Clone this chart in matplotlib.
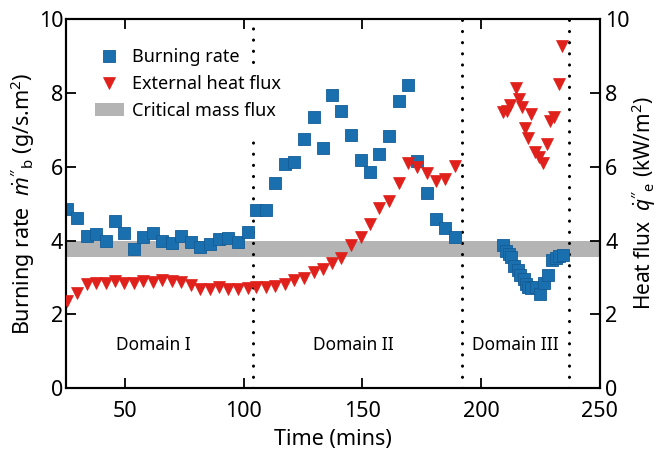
import matplotlib as mpl
mpl.use('Agg')
import matplotlib.pyplot as plt
from matplotlib.lines import Line2D
from matplotlib.patches import Patch

plt.rcParams['font.family'] = ['Noto Sans', 'DejaVu Sans']
plt.rcParams['mathtext.fontset'] = 'custom'
plt.rcParams['mathtext.rm'] = 'Noto Sans'
plt.rcParams['mathtext.it'] = 'Noto Sans:italic'

# times (mins) shared by both series in domains I and II
time = [25.5, 29.7, 33.7, 37.6, 41.8, 45.7, 49.7, 53.5, 57.7, 61.6, 65.5,
        69.7, 73.6, 77.7, 81.7, 85.6, 89.6, 93.5, 97.7, 101.6, 105.0,
        109.4, 113.3, 117.2, 121.3, 125.2, 129.4, 133.3, 137.2, 141.1,
        145.3, 149.2, 153.2, 157.1, 161.3, 165.2, 169.1, 173.1, 177.0,
        181.1, 185.0, 189.0]
burning = [4.85, 4.6, 4.12, 4.18, 3.98, 4.52, 4.2, 3.76, 4.1, 4.2, 4.0,
           3.94, 4.12, 3.96, 3.83, 3.91, 4.03, 4.06, 3.96, 4.22, 4.82,
           4.82, 5.55, 6.08, 6.13, 6.76, 7.36, 6.5, 7.95, 7.5,
           6.85, 6.18, 5.86, 6.35, 6.83, 7.78, 8.21, 6.16, 5.3,
           4.59, 4.35, 4.09]
heat = [2.36, 2.59, 2.81, 2.86, 2.86, 2.91, 2.86, 2.86, 2.9, 2.88, 2.92,
        2.91, 2.88, 2.79, 2.7, 2.7, 2.74, 2.7, 2.68, 2.71, 2.73,
        2.74, 2.78, 2.83, 2.94, 2.98, 3.14, 3.22, 3.39, 3.54,
        3.87, 4.09, 4.46, 4.87, 5.07, 5.57, 6.11, 5.98, 5.84,
        5.61, 5.66, 6.02]

# domain III
time3_b = [209.1, 210.5, 211.9, 212.8, 214.0, 215.4, 216.5, 217.9, 218.8,
           219.8, 220.9, 223.0, 224.8, 226.5, 228.2, 230.0, 231.4, 232.8,
           234.6]
burning3 = [3.87, 3.73, 3.64, 3.55, 3.3, 3.21, 3.07, 2.95, 2.82,
            2.75, 2.71, 2.75, 2.55, 2.85, 3.07, 3.48, 3.53, 3.57, 3.6]
time3_h = [209.1, 210.9, 212.1, 214.6, 216.0, 217.4, 218.4, 219.8, 220.9,
           222.6, 224.4, 226.3, 227.6, 229.0, 230.7, 232.8, 234.2]
heat3 = [7.48, 7.51, 7.68, 8.13, 7.83, 7.63, 7.04, 6.77, 7.43,
         6.39, 6.27, 6.09, 6.61, 7.25, 7.36, 8.23, 9.28]

critical = (3.55, 4.0)
domain_edges = [104, 192, 237]
domain_labels = ['Domain I', 'Domain II', 'Domain III']
domain_label_x = [62, 146, 214.4]

blue = '#1a6faf'
red = '#e0201b'
grey = '#b4b4b4'

fig = plt.figure(figsize=(6.59, 4.66), dpi=100)
ax = fig.add_axes([0.100, 0.167, 0.810, 0.792])
ax2 = ax.twinx()

ax.axhspan(critical[0], critical[1], color=grey, lw=0, zorder=1)

dot = dict(color='black', lw=2.2, linestyle=(0, (0.05, 3.6)),
           dash_capstyle='round', zorder=2)
ax.axvline(domain_edges[0], ymin=0, ymax=0.667, **dot)
ax.axvline(domain_edges[0], ymin=0.885, ymax=1, **dot)
ax.axvline(domain_edges[1], **dot)
ax.axvline(domain_edges[2], **dot)

sq = dict(marker='s', ms=8, mfc=blue, mec='#135d97', mew=0.6, ls='none', zorder=3)
tri = dict(marker='v', ms=9, mfc=red, mec=red, mew=0.5, ls='none', zorder=3)
ax.plot(time, burning, **sq)
ax.plot(time3_b, burning3, **sq)
ax2.plot(time, heat, **tri)
ax2.plot(time3_h, heat3, **tri)

for xl, lab in zip(domain_label_x, domain_labels):
    ax.text(xl, 1.17, lab, ha='center', va='center', fontsize=12.5)

ax.set_xlim(25, 250)
ax.set_ylim(0, 10)
ax2.set_ylim(0, 10)
ax.set_xticks([50, 100, 150, 200, 250])
ax.set_yticks([0, 2, 4, 6, 8, 10])
ax2.set_yticks([0, 2, 4, 6, 8, 10])

ax.tick_params(axis='both', direction='in', length=7, width=1.3,
               labelsize=15.5, top=True)
ax.tick_params(axis='x', pad=9)
ax.tick_params(axis='y', pad=2)
ax2.tick_params(axis='y', direction='in', length=7, width=1.3,
                labelsize=15.5, pad=4)
for a in (ax, ax2):
    for s in a.spines.values():
        s.set_linewidth(1.5)

ax.set_xlabel('Time (mins)', fontsize=15.5, labelpad=5)
ax.set_ylabel(r"Burning rate  $\dot{m}''_\mathrm{b}$ (g/s.m$^2$)", fontsize=15.5,
              labelpad=1)
ax2.set_ylabel(r"Heat flux  $\dot{q}''_\mathrm{e}$ (kW/m$^2$)", fontsize=15,
               labelpad=0)

handles = [Line2D([], [], **sq), Line2D([], [], **tri),
           Patch(facecolor=grey, edgecolor='none')]
ax2.legend(handles, ['Burning rate', 'External heat flux', 'Critical mass flux'],
           loc='upper left', frameon=False, fontsize=13, handlelength=1.6,
           handletextpad=0.45, labelspacing=0.5, borderaxespad=1.2)

fig.savefig('out.png', dpi=100)
